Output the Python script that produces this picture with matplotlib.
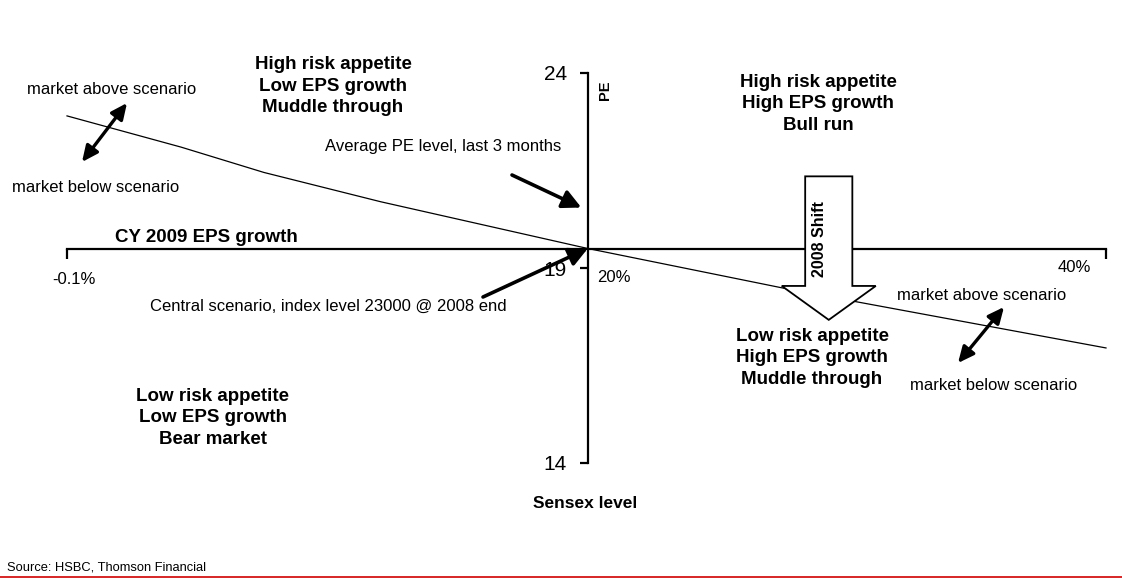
import matplotlib
matplotlib.use("Agg")
import matplotlib.pyplot as plt
from matplotlib.patches import FancyArrow
from matplotlib.lines import Line2D

plt.rcParams['font.family'] = ['Liberation Sans', 'DejaVu Sans']

# Scenario curve: PE implied by a fixed index level vs CY2009 EPS growth (%)
eps_growth = [-0.1, 4.3, 7.5, 12.0, 20.0, 27.8, 40.0]
pe_level = [22.9, 22.1, 21.45, 20.7, 19.5, 18.45, 16.95]

pe_ticks = [14, 19, 24]
growth_ends = [-0.1, 40]
growth_labels = ['-0.1%', '20%', '40%']

axis_cross_pe = 19.5       # where the growth axis sits on the PE scale
axis_cross_growth = 20     # where the PE axis sits on the growth scale
central_point = (20, 19.5)
avg_pe_point = (19.75, 20.55)

# the "2008 Shift" block arrow, in data units
shift_x, shift_top, shift_tip = 29.3, 21.35, 17.67

W, H = 1122, 578


def fig_xy(px, py):
    """pixel position (from top-left) -> figure fraction"""
    return px / W, 1 - py / H


fig = plt.figure(figsize=(W / 100, H / 100), dpi=100)
ax = fig.add_axes([67 / W, 115 / H, (1106 - 67) / W, (505 - 115) / H])
ax.set_xlim(growth_ends[0], growth_ends[1])
ax.set_ylim(pe_ticks[0], pe_ticks[-1])
ax.patch.set_visible(False)

for side in ['top', 'right']:
    ax.spines[side].set_visible(False)
ax.spines['left'].set_position(('data', axis_cross_growth))
ax.spines['left'].set_bounds(pe_ticks[0], pe_ticks[-1])
ax.spines['bottom'].set_position(('data', axis_cross_pe))
ax.spines['bottom'].set_bounds(growth_ends[0], growth_ends[1])
for side in ['left', 'bottom']:
    ax.spines[side].set_linewidth(1.6)

ax.set_yticks(pe_ticks)
ax.set_yticklabels([str(t) for t in pe_ticks], fontsize=15)
ax.tick_params(axis='y', direction='out', length=6, width=1.6, pad=9)
ax.set_xticks(growth_ends)
ax.set_xticklabels([])
ax.tick_params(axis='x', direction='out', length=7, width=1.6)

ax.plot(eps_growth, pe_level, color='black', lw=0.9, clip_on=False, zorder=2)

# 2008 shift block arrow
shift = FancyArrow(shift_x, shift_top, 0, shift_tip - shift_top, width=1.82,
                   head_width=3.63, head_length=0.87, length_includes_head=True,
                   facecolor='white', edgecolor='black', lw=1.3, zorder=5,
                   clip_on=False)
ax.add_patch(shift)
fig.text(*fig_xy(820, 239), '2008 Shift', rotation=90, fontsize=11.5,
         fontweight='bold', ha='center', va='center', zorder=6)

# quadrant descriptions
bold = dict(fontsize=13.5, fontweight='bold', ha='center', va='center',
            multialignment='center', linespacing=1.38)
fig.text(*fig_xy(333, 86), 'High risk appetite\nLow EPS growth\nMuddle through', **bold)
fig.text(*fig_xy(818, 104), 'High risk appetite\nHigh EPS growth\nBull run', **bold)
fig.text(*fig_xy(812, 358), 'Low risk appetite\nHigh EPS growth\nMuddle through', **bold)
fig.text(*fig_xy(213, 418), 'Low risk appetite\nLow EPS growth\nBear market', **bold)

# axis titles
fig.text(*fig_xy(605, 90), 'PE', rotation=90, fontsize=10.5, fontweight='bold',
         ha='center', va='center')
fig.text(*fig_xy(115, 237), 'CY 2009 EPS growth', fontsize=13.5, fontweight='bold',
         ha='left', va='center')
fig.text(*fig_xy(585, 503), 'Sensex level', fontsize=12.5, fontweight='bold',
         ha='center', va='center')

# growth axis labels
fig.text(*fig_xy(74, 279), growth_labels[0], fontsize=12, ha='center', va='center')
fig.text(*fig_xy(597, 278), growth_labels[1], fontsize=12, ha='left', va='center')
fig.text(*fig_xy(1058, 268), growth_labels[2], fontsize=12, ha='left', va='center')

# notes and pointers
reg = dict(fontsize=12, va='center')
fig.text(*fig_xy(27, 89), 'market above scenario', ha='left', **reg)
fig.text(*fig_xy(12, 188), 'market below scenario', ha='left', **reg)
fig.text(*fig_xy(897, 295), 'market above scenario', ha='left', **reg)
fig.text(*fig_xy(910, 385), 'market below scenario', ha='left', **reg)
fig.text(*fig_xy(561, 146), 'Average PE level, last 3 months', ha='right', **reg)
fig.text(*fig_xy(150, 306), 'Central scenario, index level 23000 @ 2008 end',
         ha='left', **reg)

single = dict(arrowstyle='-|>,head_length=0.8,head_width=0.4', lw=2.6,
              color='black', shrinkA=0, shrinkB=0, mutation_scale=14)
double = dict(arrowstyle='<|-|>,head_length=0.8,head_width=0.37', lw=2.4,
              color='black', shrinkA=0, shrinkB=0, mutation_scale=12)

ax.annotate('', xy=avg_pe_point, xytext=fig_xy(512, 175),
            textcoords='figure fraction', arrowprops=single, zorder=4)
ax.annotate('', xy=central_point, xytext=fig_xy(483, 297),
            textcoords='figure fraction', arrowprops=single, zorder=4)
ax.annotate('', xy=fig_xy(82, 162), xycoords='figure fraction',
            xytext=fig_xy(127, 103), textcoords='figure fraction',
            arrowprops=double)
ax.annotate('', xy=fig_xy(958, 363), xycoords='figure fraction',
            xytext=fig_xy(1004, 307), textcoords='figure fraction',
            arrowprops=double)

fig.text(*fig_xy(7, 568), 'Source: HSBC, Thomson Financial', fontsize=9.3,
         ha='left', va='center')
fig.add_artist(Line2D([0, 1], [1 - 577 / H] * 2, transform=fig.transFigure,
                      color='#d00000', lw=1.2))

fig.savefig('out.png', dpi=100)
